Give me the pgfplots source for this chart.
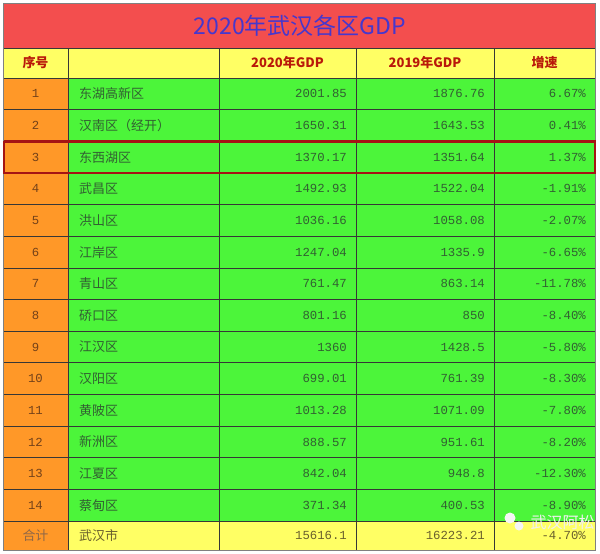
\documentclass[border=0pt]{standalone}
\usepackage{fontspec}
\setmainfont{Liberation Sans}
\newfontfamily\cjk{Noto Sans CJK SC}
\newfontfamily\mono{Liberation Mono}
\usepackage{pgfplots}
\usepackage{pgfplotstable}
\pgfplotsset{compat=1.18}

\definecolor{titlered}{RGB}{243,78,78}
\definecolor{titleblue}{RGB}{70,55,205}
\definecolor{headyellow}{RGB}{255,255,100}
\definecolor{cellorange}{RGB}{255,152,40}
\definecolor{cellgreen}{RGB}{76,245,58}
\definecolor{headred}{RGB}{185,25,10}
\definecolor{celltxt}{RGB}{50,95,50}
\definecolor{numtxt}{RGB}{115,65,25}
\definecolor{sumtxt}{RGB}{105,95,45}
\definecolor{gridc}{RGB}{55,55,55}
\definecolor{hilite}{RGB}{165,20,20}

% district, 2020 GDP, 2019 GDP, growth (%)
\pgfplotstableread[col sep=comma]{
n,name,a,b,r
1,东湖高新区,2001.85,1876.76,6.67
2,汉南区（经开）,1650.31,1643.53,0.41
3,东西湖区,1370.17,1351.64,1.37
4,武昌区,1492.93,1522.04,-1.91
5,洪山区,1036.16,1058.08,-2.07
6,江岸区,1247.04,1335.9,-6.65
7,青山区,761.47,863.14,-11.78
8,硚口区,801.16,850,-8.40
9,江汉区,1360,1428.5,-5.80
10,汉阳区,699.01,761.39,-8.30
11,黄陂区,1013.28,1071.09,-7.80
12,新洲区,888.57,951.61,-8.20
13,江夏区,842.04,948.8,-12.30
14,蔡甸区,371.34,400.53,-8.90
}\gdp

\begin{document}
\begin{tikzpicture}
\begin{axis}[
    width=600pt, height=554pt, scale only axis,
    xmin=0, xmax=600, ymin=0, ymax=554,
    y dir=reverse,
    hide axis,
    clip=false,
    point meta=explicit symbolic,
]
% backgrounds
\addplot[fill=white, draw=none] coordinates {(0,0) (600,0) (600,554) (0,554)};
\addplot[fill=titlered, draw=none] coordinates {(3,3) (595,3) (595,48) (3,48)};
\addplot[fill=headyellow, draw=none] coordinates {(3,48) (595,48) (595,78) (3,78)};
\addplot[fill=cellgreen, draw=none] coordinates {(68,78) (595,78) (595,521.1) (68,521.1)};
\addplot[fill=cellorange, draw=none] coordinates {(3,78) (68,78) (68,550) (3,550)};
\addplot[fill=headyellow, draw=none] coordinates {(68,521.1) (595,521.1) (595,550) (68,550)};

% grid lines
\addplot[gridc, line width=0.8pt, unbounded coords=jump] coordinates {
    (3,48) (595,48) (595,nan)
    (3,78) (595,78) (595,nan)
    (3,109.65) (595,109.65) (595,nan)
    (3,141.3) (595,141.3) (595,nan)
    (3,172.95) (595,172.95) (595,nan)
    (3,204.6) (595,204.6) (595,nan)
    (3,236.25) (595,236.25) (595,nan)
    (3,267.9) (595,267.9) (595,nan)
    (3,299.55) (595,299.55) (595,nan)
    (3,331.2) (595,331.2) (595,nan)
    (3,362.85) (595,362.85) (595,nan)
    (3,394.5) (595,394.5) (595,nan)
    (3,426.15) (595,426.15) (595,nan)
    (3,457.8) (595,457.8) (595,nan)
    (3,489.45) (595,489.45) (595,nan)
    (3,521.1) (595,521.1) (595,nan)
    (68,48) (68,550) (68,nan)
    (219,48) (219,550) (219,nan)
    (356,48) (356,550) (356,nan)
    (494,48) (494,550) (494,nan)
};
\addplot[gray, line width=1pt] coordinates {(3,3) (595,3) (595,550) (3,550) (3,3)};

% title and header
\addplot[draw=none, mark=none, nodes near coords,
    nodes near coords style={anchor=center, inner sep=0pt, text=titleblue,
        font=\cjk\fontsize{23}{23}\selectfont}]
    coordinates {(300,26) [2020年武汉各区GDP]};
\addplot[draw=none, mark=none, nodes near coords,
    nodes near coords style={anchor=center, inner sep=0pt, text=headred,
        font=\cjk\bfseries\fontsize{13}{13}\selectfont}]
    coordinates {(35.5,63) [序号] (287.5,63) [2020年GDP] (425,63) [2019年GDP] (544.5,63) [增速]};

% body
\addplot[draw=none, mark=none, nodes near coords,
    nodes near coords style={anchor=center, inner sep=0pt, text=numtxt,
        font=\mono\fontsize{12.3}{12.3}\selectfont}]
    table[x expr=35.5, y expr={78+31.65*(\thisrow{n}-0.5)}, meta=n] {\gdp};
\addplot[draw=none, mark=none, nodes near coords,
    nodes near coords style={anchor=west, inner sep=0pt, text=celltxt,
        font=\cjk\fontsize{13}{13}\selectfont}]
    table[x expr=79, y expr={78+31.65*(\thisrow{n}-0.5)}, meta=name] {\gdp};
\addplot[draw=none, mark=none, nodes near coords,
    nodes near coords style={anchor=east, inner sep=0pt, text=celltxt,
        font=\mono\fontsize{12.3}{12.3}\selectfont}]
    table[x expr=347, y expr={78+31.65*(\thisrow{n}-0.5)}, meta=a] {\gdp};
\addplot[draw=none, mark=none, nodes near coords,
    nodes near coords style={anchor=east, inner sep=0pt, text=celltxt,
        font=\mono\fontsize{12.3}{12.3}\selectfont}]
    table[x expr=485, y expr={78+31.65*(\thisrow{n}-0.5)}, meta=b] {\gdp};
\addplot[draw=none, mark=none, nodes near coords={\pgfplotspointmeta\%},
    nodes near coords style={anchor=east, inner sep=0pt, text=celltxt,
        font=\mono\fontsize{12.3}{12.3}\selectfont}]
    table[x expr=586, y expr={78+31.65*(\thisrow{n}-0.5)}, meta=r] {\gdp};

% total row
\addplot[draw=none, mark=none, nodes near coords,
    nodes near coords style={anchor=center, inner sep=0pt, text=numtxt!80!white,
        font=\cjk\fontsize{13}{13}\selectfont}]
    coordinates {(35.5,535.5) [合计]};
\addplot[draw=none, mark=none, nodes near coords,
    nodes near coords style={anchor=west, inner sep=0pt, text=sumtxt,
        font=\cjk\fontsize{13}{13}\selectfont}]
    coordinates {(79,535.5) [武汉市]};
\addplot[draw=none, mark=none, nodes near coords,
    nodes near coords style={anchor=east, inner sep=0pt, text=sumtxt,
        font=\mono\fontsize{12.3}{12.3}\selectfont}]
    coordinates {(347,535.5) [15616.1] (485,535.5) [16223.21] (586,535.5) [-4.70\%]};

% highlighted row
\addplot[hilite, line width=2.8pt] coordinates {(4,141.3) (595,141.3) (595,172.95) (4,172.95) (4,141.3)};

% watermark
\node[text=white!88!gray, font=\cjk\fontsize{16}{16}\selectfont, anchor=west]
    at (axis cs:527,522) {武汉阿松};
\node[circle, fill=white!92!gray, minimum size=11pt, inner sep=0pt] at (axis cs:510,518) {};
\node[circle, fill=white!92!gray, minimum size=9pt, inner sep=0pt] at (axis cs:519,526) {};
\end{axis}
\end{tikzpicture}
\end{document}
